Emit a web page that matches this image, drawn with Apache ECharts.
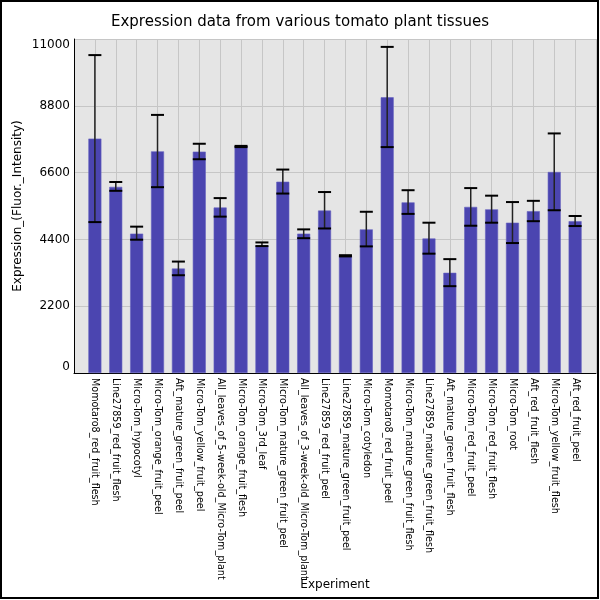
<!DOCTYPE html>
<html>
<head>
<meta charset="utf-8">
<script src="https://cdn.jsdelivr.net/npm/echarts@6/dist/echarts.min.js"></script>
<style>
html, body { margin: 0; padding: 0; background: #fff; }
#chart { width: 600px; height: 600px; }
</style>
</head>
<body>
<div id="chart"></div>
<script>

var experiments = [
    'Momotaro8_red_fruit_flesh',
    'Line27859_red_fruit_flesh',
    'Micro-Tom_hypocotyl',
    'Micro-Tom_orange_fruit_peel',
    'Aft_mature_green_fruit_peel',
    'Micro-Tom_yellow_fruit_peel',
    'All_leaves_of_5-week-old_Micro-Tom_plant',
    'Micro-Tom_orange_fruit_flesh',
    'Micro-Tom_3rd_leaf',
    'Micro-Tom_mature_green_fruit_peel',
    'All_leaves_of_3-week-old_Micro-Tom_plant',
    'Line27859_red_fruit_peel',
    'Line27859_mature_green_fruit_peel',
    'Micro-Tom_cotyledon',
    'Momotaro8_red_fruit_peel',
    'Micro-Tom_mature_green_fruit_flesh',
    'Line27859_mature_green_fruit_flesh',
    'Aft_mature_green_fruit_flesh',
    'Micro-Tom_red_fruit_peel',
    'Micro-Tom_red_fruit_flesh',
    'Micro-Tom_root',
    'Aft_red_fruit_flesh',
    'Micro-Tom_yellow_fruit_flesh',
    'Aft_red_fruit_peel'
];

var expression = [7720, 6130, 4590, 7300, 3440, 7290, 5450, 7460, 4200, 6300,
                  4590, 5350, 3860, 4730, 9080, 5620, 4430, 3300, 5470, 5390,
                  4950, 5330, 6620, 5000];

var errorLow = [4970, 6000, 4390, 6120, 3220, 7040, 5150, 7440, 4180, 5910,
                4440, 4760, 3840, 4170, 7440, 5240, 3930, 2860, 4850, 4950,
                4280, 5000, 5360, 4840];

var errorHigh = [10470, 6290, 4820, 8500, 3670, 7550, 5760, 7480, 4300, 6700,
                 4730, 5960, 3880, 5310, 10740, 6020, 4950, 3750, 6090, 5840,
                 5630, 5670, 7890, 5170];

var yTicks = [0, 2200, 4400, 6600, 8800, 11000];

// pad one empty slot at each end, the bars sit one step in from the plot edges
var cats = [''].concat(experiments, ['']);
var barData = [null].concat(expression, [null]);
var errData = [];
for (var i = 0; i < experiments.length; i++) {
    errData.push([i + 1, errorLow[i], errorHigh[i]]);
}

var chart = echarts.init(document.getElementById('chart'));

function renderError(params, api) {
    var lo = api.coord([api.value(0), api.value(1)]);
    var hi = api.coord([api.value(0), api.value(2)]);
    var half = 6.5;
    return {
        type: 'group',
        children: [
            {
                type: 'line',
                shape: { x1: lo[0], y1: lo[1], x2: hi[0], y2: hi[1] },
                style: { stroke: '#222', lineWidth: 1.5 }
            },
            {
                type: 'line',
                shape: { x1: hi[0] - half, y1: hi[1], x2: hi[0] + half, y2: hi[1] },
                style: { stroke: '#000', lineWidth: 2 }
            },
            {
                type: 'line',
                shape: { x1: lo[0] - half, y1: lo[1], x2: lo[0] + half, y2: lo[1] },
                style: { stroke: '#000', lineWidth: 2 }
            }
        ]
    };
}

var option = {
    backgroundColor: '#fff',
    animation: false,
    textStyle: { fontFamily: 'DejaVu Sans' },
    title: {
        text: 'Expression data from various tomato plant tissues',
        left: 'center',
        top: 10,
        textStyle: { fontFamily: 'DejaVu Sans', fontSize: 15, fontWeight: 'normal', color: '#000' }
    },
    grid: {
        left: 74,
        right: 4,
        top: 39,
        bottom: 227,
        outerBoundsMode: 'none',
        containLabel: false,
        show: true,
        backgroundColor: '#e5e5e5',
        borderWidth: 0
    },
    xAxis: {
        type: 'category',
        data: cats,
        boundaryGap: false,
        name: 'Experiment',
        nameLocation: 'middle',
        nameGap: 206,
        nameMoveOverlap: false,
        nameTextStyle: { fontSize: 12, color: '#000' },
        axisLine: { show: true, lineStyle: { color: '#000', width: 1 } },
        axisTick: { show: false },
        splitLine: { show: true, lineStyle: { color: '#c6c6c6', width: 1 } },
        axisLabel: {
            interval: 0,
            rotate: -90,
            margin: 5,
            fontSize: 9.6,
            color: '#000'
        }
    },
    yAxis: {
        type: 'value',
        min: yTicks[0],
        max: yTicks[yTicks.length - 1],
        interval: yTicks[1] - yTicks[0],
        name: 'Expression_(Fluor._Intensity)',
        nameLocation: 'middle',
        nameGap: 50,
        nameMoveOverlap: false,
        nameTextStyle: { fontSize: 12, color: '#000' },
        axisLine: { show: true, lineStyle: { color: '#000', width: 1 } },
        axisTick: { show: false },
        splitLine: { show: true, lineStyle: { color: '#c6c6c6', width: 1 } },
        axisLabel: {
            fontSize: 12,
            color: '#000',
            margin: 4,
            formatter: function (v) { return String(v); },
            verticalAlignMaxLabel: 'top',
            verticalAlignMinLabel: 'bottom'
        }
    },
    graphic: [
        {
            type: 'rect',
            shape: { x: 1, y: 1, width: 597, height: 597 },
            style: { fill: 'none', stroke: '#000', lineWidth: 2 },
            z: 100
        }
    ],
    series: [
        {
            name: 'Expression',
            type: 'bar',
            data: barData,
            barWidth: 13,
            itemStyle: { color: '#4b45b0', borderColor: '#6561bf', borderWidth: 0.6 }
        },
        {
            type: 'custom',
            renderItem: renderError,
            data: errData,
            encode: { x: 0, y: [1, 2] },
            z: 5
        }
    ]
};

chart.setOption(option);

</script>
</body>
</html>
